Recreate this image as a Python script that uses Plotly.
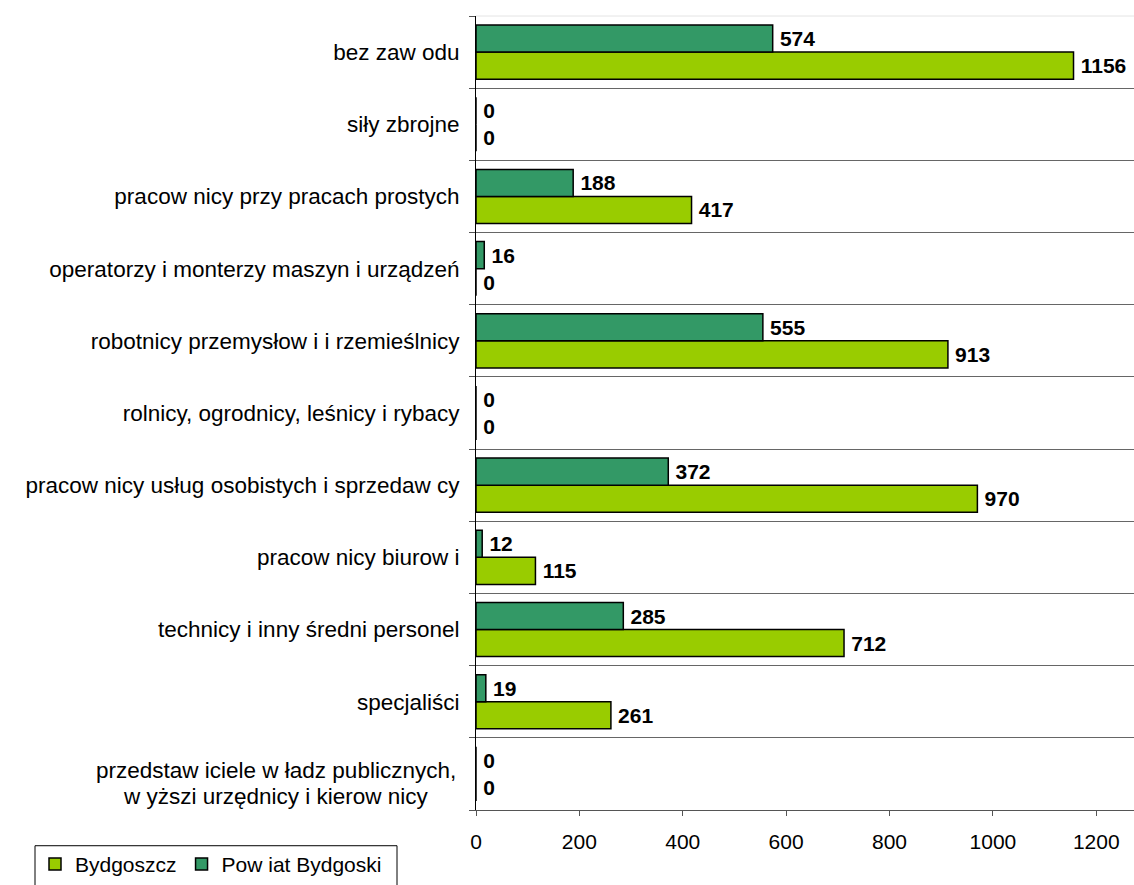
import plotly.graph_objects as go

# categories listed bottom -> top (as drawn on the axis)
categories = [
    "przedstaw iciele w ładz publicznych,<br>w yższi urzędnicy i kierow nicy",
    "specjaliści",
    "technicy i inny średni personel",
    "pracow nicy biurow i",
    "pracow nicy usług osobistych i sprzedaw cy",
    "rolnicy, ogrodnicy, leśnicy i rybacy",
    "robotnicy przemysłow i i rzemieślnicy",
    "operatorzy i monterzy maszyn i urządzeń",
    "pracow nicy przy pracach prostych",
    "siły zbrojne",
    "bez zaw odu",
]
bydgoszcz = [0, 261, 712, 115, 970, 0, 913, 0, 417, 0, 1156]
powiat = [0, 19, 285, 12, 372, 0, 555, 16, 188, 0, 574]
x_ticks = [0, 200, 400, 600, 800, 1000, 1200]

FONT = "Liberation Sans, Arial, sans-serif"

fig = go.Figure()
fig.add_trace(go.Bar(
    name="Bydgoszcz", y=categories, x=bydgoszcz, orientation="h",
    marker=dict(color="#99CC00", line=dict(color="#000000", width=1.5)),
    text=bydgoszcz, texttemplate="\u2009%{x}", textposition="outside",
    textfont=dict(family=FONT, size=21, color="#000000", weight="bold"),
    cliponaxis=False,
))
fig.add_trace(go.Bar(
    name="Pow iat Bydgoski", y=categories, x=powiat, orientation="h",
    marker=dict(color="#339966", line=dict(color="#000000", width=1.5)),
    text=powiat, texttemplate="\u2009%{x}", textposition="outside",
    textfont=dict(family=FONT, size=21, color="#000000", weight="bold"),
    cliponaxis=False,
))

ticktext = [("" if "<br>" in c else c) for c in categories]
ml = [c for c in categories if "<br>" in c][0]
lines = ml.split("<br>")

fig.update_layout(
    width=1134, height=885,
    margin=dict(l=476, r=0, t=16, b=69),
    paper_bgcolor="white", plot_bgcolor="white",
    barmode="group", bargap=0.25, bargroupgap=0,
    font=dict(family=FONT, size=21, color="#000000"),
    showlegend=True,
    legend=dict(
        orientation="h", x=(35 - 476) / 658, xanchor="left",
        y=(816 - 850) / 800, yanchor="top",
        borderwidth=0, bgcolor="rgba(0,0,0,0)",
        font=dict(family=FONT, size=21, color="#000000"),
        traceorder="normal", itemwidth=30,
    ),
    xaxis=dict(
        range=[0, 1273], tickvals=x_ticks, ticktext=[str(v) for v in x_ticks],
        showgrid=False, zeroline=False,
        showline=True, linecolor="#555555", linewidth=1,
        ticks="outside", ticklen=5, tickcolor="#555555",
        ticklabelstandoff=8,
        tickfont=dict(family=FONT, size=21, color="#000000"),
        fixedrange=True,
    ),
    yaxis=dict(
        type="category", tickmode="array", tickvals=categories, ticktext=ticktext,
        tickson="boundaries", showgrid=True, gridcolor="#666666", gridwidth=1,
        showline=True, linecolor="#000000", linewidth=1,
        ticks="outside", ticklen=6, tickcolor="#555555",
        ticklabelstandoff=11,
        tickfont=dict(family=FONT, size=22.5, color="#000000"),
        fixedrange=True,
    ),
    shapes=[
        dict(type="line", xref="paper", yref="paper", x0=0, x1=1, y0=1, y1=1,
             line=dict(color="#e4e4e4", width=1)),
        dict(type="rect", xref="paper", yref="paper",
             x0=(35 - 476) / 658, x1=(397 - 476) / 658,
             y0=(816 - 852) / 800, y1=(816 - 900) / 800,
             line=dict(color="#000000", width=1), fillcolor="rgba(0,0,0,0)"),
    ],
)

for i, line in enumerate(lines):
    fig.add_annotation(
        xref="paper", yref="paper", x=(276 - 476) / 658, xanchor="center",
        y=(816 - (776 + 26 * i)) / 800, yanchor="middle",
        text=line, showarrow=False,
        font=dict(family=FONT, size=22.5, color="#000000"),
    )

fig.write_html(
    "out.html",
    config={"displayModeBar": False},
    post_script="document.body.style.margin='0';document.body.style.overflow='hidden';",
)
